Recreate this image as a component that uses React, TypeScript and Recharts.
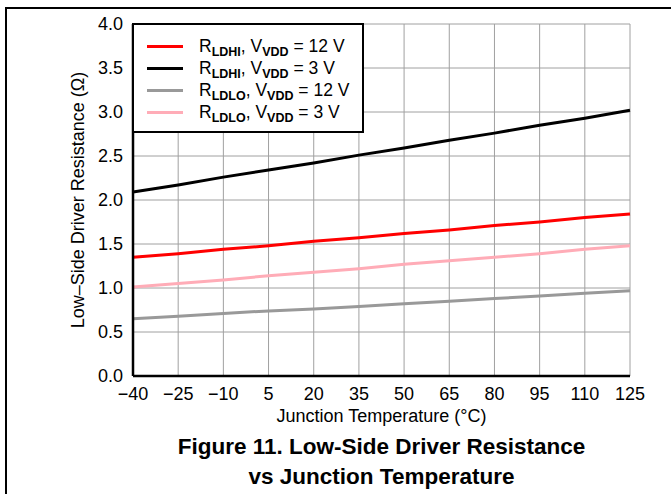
import React from 'react';
import {
  LineChart,
  Line,
  XAxis,
  YAxis,
  CartesianGrid,
  Legend,
} from 'recharts';

const temps = [-40, -25, -10, 5, 20, 35, 50, 65, 80, 95, 110, 125];
const ldhi12 = [1.35, 1.39, 1.44, 1.48, 1.53, 1.57, 1.62, 1.66, 1.71, 1.75, 1.8, 1.84];
const ldhi3 = [2.09, 2.17, 2.26, 2.34, 2.42, 2.51, 2.59, 2.68, 2.76, 2.85, 2.93, 3.02];
const ldlo12 = [0.65, 0.68, 0.71, 0.74, 0.76, 0.79, 0.82, 0.85, 0.88, 0.91, 0.94, 0.97];
const ldlo3 = [1.01, 1.05, 1.09, 1.14, 1.18, 1.22, 1.27, 1.31, 1.35, 1.39, 1.44, 1.48];

const yTicks = [0, 0.5, 1, 1.5, 2, 2.5, 3, 3.5, 4];

const seriesKeys = ['ldhi12', 'ldhi3', 'ldlo12', 'ldlo3'];
const seriesColors = ['#ff0000', '#000000', '#999999', '#ffacb7'];
const seriesSub = ['LDHI', 'LDHI', 'LDLO', 'LDLO'];
const seriesVolts = ['12 V', '3 V', '12 V', '3 V'];

const data = temps.map((t, i) => ({
  t,
  ldhi12: ldhi12[i],
  ldhi3: ldhi3[i],
  ldlo12: ldlo12[i],
  ldlo3: ldlo3[i],
}));

const FONT = 'Arial, "Liberation Sans", Helvetica, sans-serif';

function LegendBox() {
  return (
    <div
      style={{
        width: 232,
        height: 110,
        boxSizing: 'border-box',
        border: '2px solid #000',
        background: '#fff',
        padding: '10px 0 0 13px',
        fontFamily: FONT,
        fontSize: 17.5,
        color: '#000',
        textAlign: 'left',
      }}
    >
      {seriesKeys.map((k, i) => (
        <div key={k} style={{ display: 'flex', alignItems: 'center', height: 22 }}>
          <span style={{ width: 36, height: 3, background: seriesColors[i], marginRight: 16 }} />
          <span style={{ whiteSpace: 'nowrap' }}>
            R<b style={{ fontSize: 12.5, position: 'relative', top: 4 }}>{seriesSub[i]}</b>, V
            <b style={{ fontSize: 12.5, position: 'relative', top: 4 }}>VDD</b> = {seriesVolts[i]}
          </span>
        </div>
      ))}
    </div>
  );
}

export default function App() {
  const tick = { fontSize: 18, fill: '#000', fontFamily: FONT };
  return (
    <div style={{ position: 'fixed', left: 0, top: 0, width: 671, height: 494, background: '#fff' }}>
      <div style={{ position: 'absolute', left: 5, top: 7, width: 666, height: 2, background: '#000' }} />
      <div style={{ position: 'absolute', left: 5, top: 7, width: 2, height: 487, background: '#000' }} />
      <LineChart
        width={671}
        height={494}
        data={data}
        margin={{ top: 24, right: 41, left: 0, bottom: 0 }}
      >
        <CartesianGrid stroke="#a0a0a0" strokeWidth={1} />
        <XAxis
          dataKey="t"
          type="number"
          domain={[-40, 125]}
          ticks={temps}
          interval={0}
          tickFormatter={(v: number) => String(v).replace('-', '\u2212')}
          tick={tick}
          tickSize={0}
          tickMargin={11}
          height={118}
          axisLine={{ stroke: '#000', strokeWidth: 2.5 }}
          label={{
            value: 'Junction Temperature (°C)',
            position: 'insideTop',
            offset: 33,
            style: { fontSize: 18, fill: '#000', fontFamily: FONT },
          }}
        />
        <XAxis
          xAxisId="top"
          orientation="top"
          dataKey="t"
          type="number"
          domain={[-40, 125]}
          ticks={temps}
          tick={false}
          tickLine={false}
          height={0}
          axisLine={{ stroke: '#000', strokeWidth: 2.5 }}
        />
        <YAxis
          type="number"
          domain={[0, 4]}
          ticks={yTicks}
          interval={0}
          tickFormatter={(v: number) => v.toFixed(1)}
          tick={tick}
          tickSize={0}
          tickMargin={10}
          width={133}
          axisLine={{ stroke: '#000', strokeWidth: 2.5 }}
          label={{
            value: 'Low\u2013Side Driver Resistance (\u03A9)',
            angle: -90,
            position: 'center',
            dx: 11,
            style: { fontSize: 18, fill: '#000', fontFamily: FONT, textAnchor: 'middle' },
          }}
        />
        <YAxis
          yAxisId="right"
          orientation="right"
          type="number"
          domain={[0, 4]}
          ticks={yTicks}
          tick={false}
          tickLine={false}
          width={0}
          axisLine={{ stroke: '#000', strokeWidth: 2.5 }}
        />
        <Legend
          layout="horizontal"
          verticalAlign="middle"
          align="center"
          wrapperStyle={{ top: 23, left: 132, width: 232, height: 110 }}
          content={() => <LegendBox />}
        />
        {seriesKeys.map((k, i) => (
          <Line
            key={k}
            type="linear"
            dataKey={k}
            stroke={seriesColors[i]}
            strokeWidth={3}
            dot={false}
            isAnimationActive={false}
          />
        ))}
      </LineChart>
      <div
        style={{
          position: 'absolute',
          left: 133,
          width: 497,
          top: 432,
          textAlign: 'center',
          fontFamily: FONT,
          fontWeight: 'bold',
          fontSize: 22.5,
          lineHeight: '30px',
          color: '#000',
        }}
      >
        Figure 11. Low-Side Driver Resistance
        <br />
        vs Junction Temperature
      </div>
    </div>
  );
}
